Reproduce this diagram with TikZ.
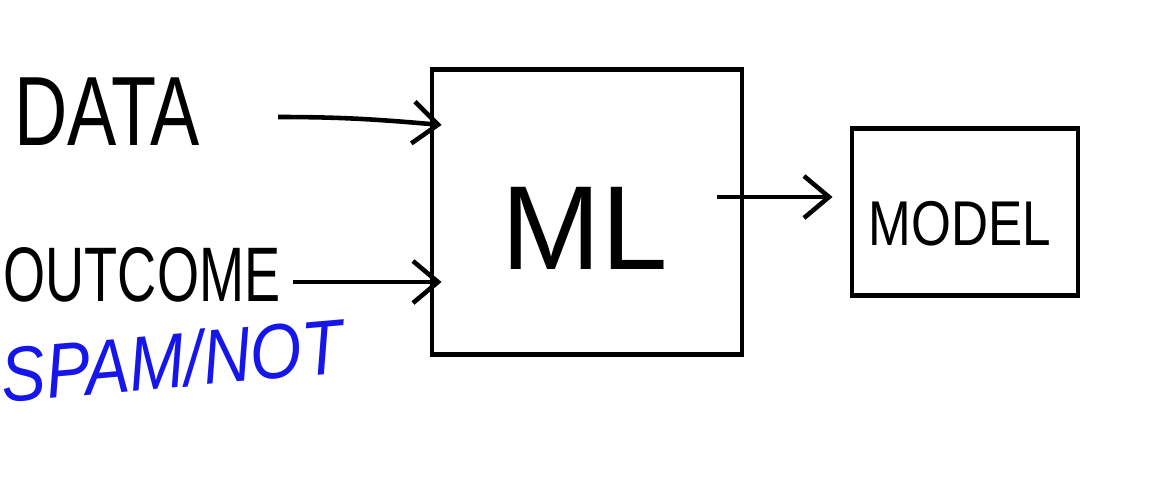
\documentclass[tikz,border=0pt]{standalone}
\usepackage{fontspec}
\setmainfont{Liberation Sans}
\usetikzlibrary{arrows.meta, positioning}
\definecolor{penblue}{RGB}{22,22,235}

\begin{document}
\begin{tikzpicture}[->,>={Straight Barb[length=2.5mm,width=4.2mm]}, line width=1.3pt, %hand sketch
  every node/.style = {inner sep=0pt, align=center},
  box/.style = {shape=rectangle, draw, line width=1.4pt},
  word/.style = {text=black}]
  \useasboundingbox (0,0) rectangle (11.59,4.9);
  \node[word] (data) at (1.07,3.78) {\fontsize{28}{30}\selectfont\scalebox{0.75}[1]{DATA}};
  \node[word] (outcome) at (1.42,2.15) {\fontsize{22}{24}\selectfont\scalebox{0.7}[1]{OUTCOME}};
  \node[text=penblue, rotate=5] (spam) at (1.72,1.3) {\fontsize{22}{24}\selectfont\itshape\scalebox{0.86}[1]{SPAM/NOT}};
  \node[box, minimum width=3.1cm, minimum height=2.85cm] (ml) at (5.87,2.78) {};
  \node[word] (mltext) at (5.85,2.62) {\fontsize{34}{36}\selectfont ML};
  \node[box, minimum width=2.26cm, minimum height=1.67cm] (model) at (9.65,2.78) {};
  \node[word] (modeltext) at (9.6,2.66) {\fontsize{18}{20}\selectfont\scalebox{0.81}[1]{MODEL}};
  \draw ([xshift=7.6mm,yshift=-0.5mm]data.east) to[out=0,in=175] ([xshift=1.2mm,yshift=-1.3mm]data -| ml.west);
  \draw ([xshift=1mm,yshift=-0.7mm]outcome.east) -- ([xshift=1.2mm,yshift=-0.7mm]outcome -| ml.west);
  \draw ([xshift=-2.7mm,yshift=1.5mm]ml.east) -- ([xshift=-1.7mm,yshift=1.5mm]model.west);
\end{tikzpicture}
\end{document}
